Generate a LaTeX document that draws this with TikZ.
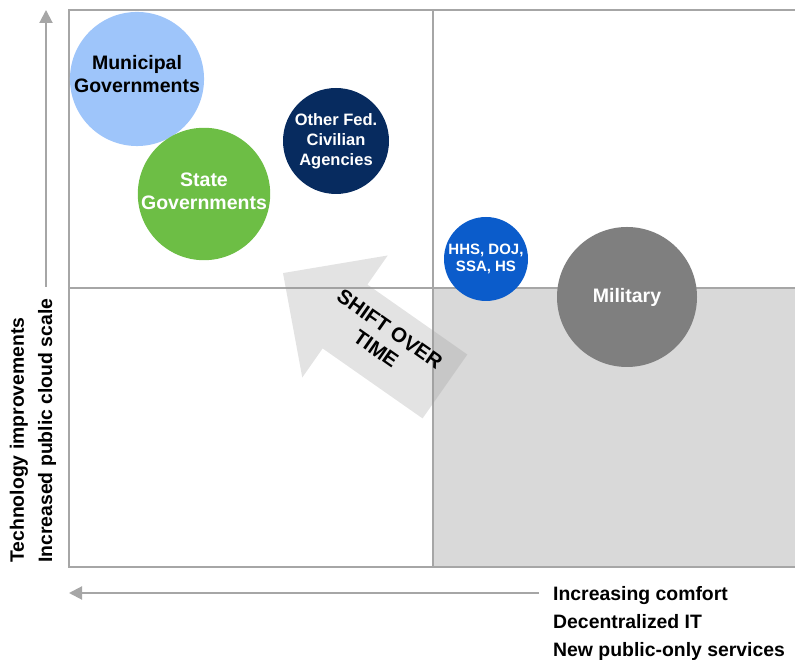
\documentclass[tikz,border=0pt]{standalone}
\usepackage{fontspec}
\setmainfont{Liberation Sans}
\usepackage{tikz}
\usetikzlibrary{positioning,arrows.meta}
\definecolor{linegray}{HTML}{A6A6A6}
\definecolor{quadgray}{HTML}{D9D9D9}
\definecolor{muniblue}{HTML}{9EC5FA}
\definecolor{stategreen}{HTML}{6DBE45}
\definecolor{fednavy}{HTML}{072B5F}
\definecolor{hhsblue}{HTML}{0B5CCB}
\definecolor{milgray}{HTML}{7F7F7F}
\tikzstyle{bubble} = [circle, inner sep=0pt, align=center, font=\bfseries\fontsize{19.5}{23}\selectfont]
\tikzstyle{axislabel} = [inner sep=0pt, font=\bfseries\fontsize{19.4}{22}\selectfont]
\tikzstyle{gridline} = [draw=linegray, line width=2pt]
\tikzstyle{axisarrow} = [draw=linegray, line width=2pt, -{Triangle[length=13pt,width=13pt]}]

\begin{document}
\begin{tikzpicture}[x=1pt,y=1pt,node distance=28pt]
\useasboundingbox (0,0) rectangle (795,660);

% quadrants
\fill[quadgray] (433,93) rectangle (795,372);
\draw[gridline] (795,650) -- (69,650) -- (69,93) -- (795,93);
\draw[gridline] (433,650) -- (433,93);
\draw[gridline] (69,372) -- (795,372);

% axes
\coordinate (ytail) at (46,373);
\coordinate (ytip) at (46,650);
\coordinate (xtail) at (539,67);
\coordinate (xtip) at (69,67);
\draw[axisarrow] (ytail) -- (ytip);
\draw[axisarrow] (xtail) -- (xtip);

% shift arrow
\begin{scope}[shift={(345,343.5)}, rotate=145]
\fill[black!40, opacity=.27] (-122,-39) -- (0,-39) -- (0,-74.5) -- (75.7,0)
  -- (0,74.5) -- (0,39) -- (-122,39) -- cycle;
\end{scope}
\node[align=center, inner sep=0pt, rotate=-35, font=\bfseries\fontsize{20.5}{24}\selectfont] (shift) at (383,321) {SHIFT OVER\\TIME};

% bubbles
\node[bubble, fill=muniblue, minimum size=134pt, text depth=10pt] (muni) at (137,581) {Municipal\\Governments};
\node[bubble, fill=stategreen, text=white, minimum size=132pt, text depth=6pt] (state) at (204,466) {State\\Governments};
\node[bubble, fill=fednavy, text=white, minimum size=106pt, font=\bfseries\fontsize{16.5}{20}\selectfont] (fed) at (336,519) {Other Fed.\\Civilian\\Agencies};
\node[bubble, fill=hhsblue, text=white, minimum size=84pt, font=\bfseries\fontsize{15}{17.5}\selectfont] (hhs) at (486,401) {HHS, DOJ,\\SSA, HS};
\node[bubble, fill=milgray, text=white, minimum size=140pt, font=\bfseries\fontsize{19.5}{22}\selectfont] (mil) at (627,363) {Military};

% axis labels
\node[axislabel, rotate=90, anchor=west] (ylab1) at (19,97) {Technology improvements};
\node[axislabel, rotate=90, anchor=west] (ylab2) at (47,97) {Increased public cloud scale};
\node[axislabel, anchor=base west] (xlab1) at (553,59) {Increasing comfort};
\node[axislabel, below=28pt of xlab1.base west, anchor=base west] (xlab2) {Decentralized IT};
\node[axislabel, below=28pt of xlab2.base west, anchor=base west] (xlab3) {New public-only services};

\end{tikzpicture}
\end{document}
